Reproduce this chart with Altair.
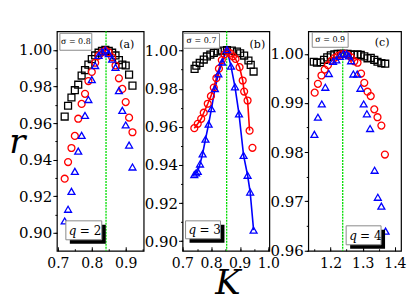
import altair as alt
import pandas as pd

FONT = "DejaVu Serif"

# ---------------- panel (a): q = 2, sigma = 0.8 ----------------
a_k = [0.72, 0.73, 0.74, 0.75, 0.76, 0.77, 0.78, 0.79, 0.80, 0.81, 0.82,
       0.83, 0.84, 0.85, 0.86, 0.87, 0.88, 0.89, 0.90, 0.91, 0.92]
a_sq = [0.9636, 0.9695, 0.9740, 0.9780, 0.9810, 0.9860, 0.9890, 0.9920, 0.9950, 0.9970, 0.9985,
        0.9995, 1.0000, 0.9995, 0.9985, 0.9970, 0.9945, 0.9920, 0.9915, 0.9865, 0.9805]
a_ci = [0.9296, 0.9387, 0.9464, 0.9530, 0.9624, 0.9705, 0.9760, 0.9830, 0.9880, 0.9930, 0.9969,
        0.9987, 0.9996, 0.9987, 0.9960, 0.9915, 0.9845, 0.9787, 0.9715, 0.9630, 0.9550]
a_tr = [0.9065, 0.9129, 0.9227, 0.9336, 0.9447, 0.9533, 0.9642, 0.9729, 0.9838, 0.9915, 0.9970,
        0.9990, 1.0000, 0.9980, 0.9950, 0.9905, 0.9778, 0.9670, 0.9590, 0.9480, 0.9360]

# ---------------- panel (b): q = 3, sigma = 0.7 ----------------
b_sq_k = [0.741, 0.747, 0.759, 0.773, 0.784, 0.796, 0.808, 0.822, 0.837, 0.854,
          0.871, 0.889, 0.900, 0.914, 0.929, 0.937, 0.947]
b_sq = [0.9904, 0.9921, 0.9935, 0.9953, 0.9969, 0.9979, 0.9988, 0.9995, 1.0000, 1.0002,
        1.0000, 0.9995, 0.9986, 0.9974, 0.9948, 0.9925, 0.9890]
b_ci_k = [0.740, 0.752, 0.764, 0.773, 0.787, 0.798, 0.808, 0.817, 0.826, 0.836, 0.846,
          0.856, 0.866, 0.875, 0.884, 0.898, 0.909, 0.914, 0.926, 0.933, 0.943]
b_ci = [0.9593, 0.9616, 0.9642, 0.9674, 0.9721, 0.9761, 0.9806, 0.9855, 0.9905, 0.9950, 0.9980,
        0.9995, 0.9985, 0.9970, 0.9956, 0.9913, 0.9843, 0.9785, 0.9738, 0.9580, 0.9490]
b_tr_k = [0.740, 0.746, 0.752, 0.760, 0.769, 0.779, 0.790, 0.800, 0.812, 0.824, 0.837,
          0.854, 0.868, 0.882, 0.896, 0.912, 0.926, 0.935, 0.947]
b_tr = [0.9350, 0.9358, 0.9367, 0.9405, 0.9458, 0.9535, 0.9614, 0.9695, 0.9800, 0.9878, 0.9940,
        1.0005, 0.9918, 0.9810, 0.9668, 0.9450, 0.9346, 0.9258, 0.9058]
b_ci_line_n = 20  # red line joins the first 20 circles

# ---------------- panel (c): q = 4, sigma = 0.9 ----------------
c_sq_k = [1.148, 1.158, 1.170, 1.180, 1.190, 1.201, 1.212, 1.222, 1.232, 1.242, 1.253,
          1.263, 1.274, 1.284, 1.294, 1.305, 1.315, 1.325, 1.336, 1.346, 1.358, 1.370]
c_sq = [0.9984, 0.9982, 0.9983, 0.9988, 0.9993, 0.9997, 0.9999, 1.0000, 1.0000, 1.0000, 1.0000,
        0.9999, 0.9998, 0.9999, 0.9998, 0.9995, 0.9991, 0.9992, 0.9988, 0.9984, 0.9981, 0.9980]
c_ci_k = [1.151, 1.161, 1.172, 1.182, 1.192, 1.203, 1.213, 1.223, 1.234, 1.244, 1.254,
          1.264, 1.274, 1.284, 1.295, 1.305, 1.315, 1.325, 1.336, 1.346, 1.358, 1.369]
c_ci = [0.9921, 0.9939, 0.9956, 0.9968, 0.9977, 0.9986, 0.9992, 0.9996, 0.9999, 1.0000, 0.9998,
        0.9993, 0.9985, 0.9982, 0.9960, 0.9941, 0.9923, 0.9914, 0.9887, 0.9871, 0.9854, 0.9795]
c_tr_k = [1.150, 1.161, 1.173, 1.184, 1.195, 1.208, 1.218, 1.229, 1.240, 1.250, 1.257,
          1.264, 1.271, 1.283, 1.293, 1.303, 1.313, 1.323, 1.337, 1.347, 1.358, 1.371]
c_tr = [0.9836, 0.9871, 0.9898, 0.9932, 0.9960, 0.9985, 0.9988, 0.9995, 1.0000, 1.0000, 0.9996,
        0.9986, 0.9959, 0.9959, 0.9930, 0.9898, 0.9878, 0.9848, 0.9763, 0.9708, 0.9690, 0.9639]

# tick labels
a_xticks = [0.7, 0.8, 0.9]
b_xticks = [0.7, 0.8, 0.9, 1.0]
c_xticks = [1.2, 1.3, 1.4]
ab_yticks = [0.90, 0.92, 0.94, 0.96, 0.98, 1.00]
c_yticks = [0.96, 0.97, 0.98, 0.99, 1.00]

# critical couplings (green dotted lines)
k_crit = [0.842, 0.853, 1.238]
sigma_labels = ["σ = 0.8", "σ = 0.7", "σ = 0.9"]
panel_tags = ["(a)", "(b)", "(c)"]
q_values = ["2", "3", "4"]

SERIES = ["sq", "ci", "tr"]
COLORS = ["#000000", "#ff0000", "#0000ff"]
SHAPES = ["square", "circle", "triangle-up"]


def long_df(sq_k, sq, ci_k, ci, tr_k, tr):
    rows = []
    for s, ks, rs in (("sq", sq_k, sq), ("ci", ci_k, ci), ("tr", tr_k, tr)):
        for k, r in zip(ks, rs):
            rows.append({"K": k, "r": r, "s": s})
    return pd.DataFrame(rows)


one = pd.DataFrame({"d": [0]})
H = 220


def panel(i, df, line_df, xdom, ydom, xt, xminor, yt, yminor, yfmt, width, lay,
          xtitle=False, ytitle=False, text_xlabels=False):
    xscale = alt.Scale(domain=xdom, nice=False, zero=False)
    yscale = alt.Scale(domain=ydom, nice=False, zero=False)
    xax = dict(values=xt, format=".1f", offset=-4, tickSize=4, domain=False,
               grid=False, labelPadding=6, labelFontSize=14, labelFont=FONT, labelColor="black",
               tickColor="black", labelFlush=False, labelOverlap=False, labelBound=False,
               labels=not text_xlabels)
    if xtitle:
        xax.update(title="K", titleFont=FONT, titleFontSize=34, titleFontStyle="italic",
                   titleFontWeight="normal", titleColor="black", titleX=45, titleY=47,
                   titleAlign="center", titleBaseline="alphabetic")
    else:
        xax.update(title=None)
    yax = dict(values=yt, format=yfmt, tickSize=4, domain=False, grid=False,
               labelPadding=1, labelFontSize=15, labelFont=FONT, labelColor="black",
               tickColor="black", labelFlush=False, labelOverlap=False)
    if ytitle:
        yax.update(title="r", titleFont=FONT, titleFontSize=34, titleFontStyle="italic",
                   titleFontWeight="normal", titleColor="black", titleAngle=0, titleX=-40,
                   titleY=121, titleAlign="center", titleBaseline="alphabetic")
    else:
        yax.update(title=None)

    X = alt.X("K:Q", scale=xscale, axis=alt.Axis(**xax))
    Y = alt.Y("r:Q", scale=yscale, axis=alt.Axis(**yax))
    Xn = alt.X("K:Q", scale=xscale, axis=None)
    Yn = alt.Y("r:Q", scale=yscale, axis=None)

    color = alt.Color("s:N", scale=alt.Scale(domain=SERIES, range=COLORS), legend=None)
    shape = alt.Shape("s:N", scale=alt.Scale(domain=SERIES, range=SHAPES), legend=None)

    layers = []
    minor = alt.Chart(df).mark_point(opacity=0).encode(
        x=alt.X("K:Q", scale=xscale, axis=alt.Axis(orient="bottom", values=xminor,
                                                   labels=False, offset=-2, tickSize=2,
                                                   domain=False, grid=False, title=None,
                                                   tickColor="black")),
        y=alt.Y("r:Q", scale=yscale, axis=alt.Axis(orient="left", values=yminor,
                                                   labels=False, tickSize=2, domain=False,
                                                   grid=False, title=None, tickColor="black")),
    )
    rule = alt.Chart(pd.DataFrame({"K": [k_crit[i]]})).mark_rule(
        color="#00dd00", strokeDash=[2, 1], strokeWidth=1.3).encode(x=Xn)
    layers.append(rule)
    if line_df is not None:
        ln = alt.Chart(line_df).mark_line(strokeWidth=1.6).encode(
            x=Xn, y=Yn, color=color, detail="s:N", order="K:Q")
        layers.append(ln)
    pts = alt.Chart(df).mark_point(filled=False, size=48, strokeWidth=1.3, opacity=1).encode(
        x=X, y=Y, color=color, shape=shape)
    layers.append(pts)
    layers.append(minor)
    if text_xlabels:
        layers.append(alt.Chart(pd.DataFrame({"K": xt})).mark_text(
            font=FONT, fontSize=14, baseline="top", align="center", color="black").encode(
            x=Xn, y=alt.value(H + 6), text=alt.Text("K:Q", format=".1f")))

    sx1, sy1, sx2, sy2 = lay["sbox"]
    layers.append(alt.Chart(one).mark_rect(fill="white", stroke="#8a8a8a", strokeWidth=1).encode(
        x=alt.value(sx1), x2=alt.value(sx2), y=alt.value(sy1), y2=alt.value(sy2)))
    layers.append(alt.Chart(one).mark_text(text=sigma_labels[i], font=FONT, fontSize=8,
                                           align="center", baseline="middle", color="black").encode(
        x=alt.value(lay["stext"][0]), y=alt.value(lay["stext"][1])))
    layers.append(alt.Chart(one).mark_text(text=panel_tags[i], font=FONT, fontSize=11,
                                           align="center", baseline="alphabetic", color="black").encode(
        x=alt.value(lay["tag"][0]), y=alt.value(lay["tag"][1])))
    qx1, qy1, qx2, qy2 = lay["qbox"]
    layers.append(alt.Chart(one).mark_rect(fill="black").encode(
        x=alt.value(qx1 + 4), x2=alt.value(qx2 + 4), y=alt.value(qy1 + 4), y2=alt.value(qy2 + 4)))
    layers.append(alt.Chart(one).mark_rect(fill="white", stroke="#8a8a8a", strokeWidth=1).encode(
        x=alt.value(qx1), x2=alt.value(qx2), y=alt.value(qy1), y2=alt.value(qy2)))
    layers.append(alt.Chart(one).mark_text(text="q", font=FONT, fontSize=12, fontStyle="italic",
                                           align="left", baseline="alphabetic", color="black").encode(
        x=alt.value(qx1 + 3), y=alt.value(qy2 - 5)))
    layers.append(alt.Chart(one).mark_text(text="= " + q_values[i], font=FONT, fontSize=12,
                                           align="left", baseline="alphabetic", color="black").encode(
        x=alt.value(qx1 + 14), y=alt.value(qy2 - 5)))

    return alt.layer(*layers).resolve_axis(x="independent", y="independent").properties(
        width=width, height=H)


df_a = long_df(a_k, a_sq, a_k, a_ci, a_k, a_tr)
df_b = long_df(b_sq_k, b_sq, b_ci_k, b_ci, b_tr_k, b_tr)
df_c = long_df(c_sq_k, c_sq, c_ci_k, c_ci, c_tr_k, c_tr)
line_b = long_df([], [], b_ci_k[:b_ci_line_n], b_ci[:b_ci_line_n], b_tr_k, b_tr)

pa = panel(0, df_a, None, [0.697, 0.953], [0.8902, 1.0102], a_xticks,
           [0.7, 0.75, 0.8, 0.85, 0.9, 0.95], ab_yticks,
           [0.90, 0.91, 0.92, 0.93, 0.94, 0.95, 0.96, 0.97, 0.98, 0.99, 1.00], ".2f", 87,
           {"sbox": (3, 2, 35, 19), "stext": (19, 10.5), "tag": (70, 17),
            "qbox": (9, 190, 45, 209)}, ytitle=True)
pb = panel(1, df_b, line_b, [0.699, 1.002], [0.895, 1.0101], b_xticks,
           [0.7, 0.75, 0.8, 0.85, 0.9, 0.95, 1.0], ab_yticks,
           [0.90, 0.91, 0.92, 0.93, 0.94, 0.95, 0.96, 0.97, 0.98, 0.99, 1.00], ".2f", 87,
           {"sbox": (1, 2, 37, 17), "stext": (19, 9.5), "tag": (75, 17),
            "qbox": (3, 190, 38, 208)}, xtitle=True, text_xlabels=True)
pc = panel(2, df_c, None, [1.131, 1.419], [0.9599, 1.0046], c_xticks,
           [1.15, 1.2, 1.25, 1.3, 1.35, 1.4], c_yticks,
           [0.96, 0.965, 0.97, 0.975, 0.98, 0.985, 0.99, 0.995, 1.00], ".2f", 93,
           {"sbox": (4, 1, 40, 16), "stext": (22, 8.5), "tag": (74, 15),
            "qbox": (38, 195, 73, 214)})

chart = alt.hconcat(pa, pb, pc, spacing=39, bounds="flush").properties(
    padding={"left": 0, "top": 21, "right": 0, "bottom": 0}
).configure_view(stroke="black", strokeWidth=1.2)

chart.save("out.html", embed_options={"renderer": "svg", "actions": False})
